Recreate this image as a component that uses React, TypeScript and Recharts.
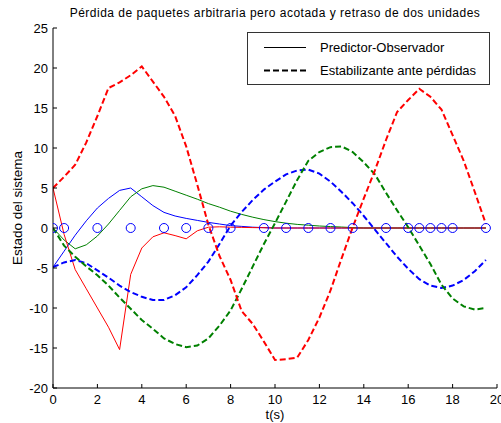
import React from 'react';
import { ComposedChart, Line, Scatter, XAxis, YAxis, Legend } from 'recharts';

const tValues = [
  0, 0.5, 1, 1.5, 2, 2.5, 3, 3.5, 4, 4.5, 5, 5.5, 6, 6.5, 7, 7.5, 8, 8.5, 9, 9.5,
  10, 10.5, 11, 11.5, 12, 12.5, 13, 13.5, 14, 14.5, 15, 15.5, 16, 16.5, 17, 17.5, 18, 18.5, 19, 19.5,
];

// Estabilizante ante pérdidas (dashed)
const redDashed = [
  5, 6.4, 7.9, 10.7, 14.0, 17.5, 18.2, 19.1, 20.2, 18.3, 16.4, 14.0, 10.2, 5.4, 0.4, -3.5, -6.5, -10.4, -12.0, -14.2,
  -16.5, -16.4, -16.2, -14.0, -11.2, -7.8, -3.8, 0.1, 3.7, 7.2, 11.0, 14.5, 16.0, 17.4, 16.4, 14.8, 11.6, 8.4, 4.5, 0.5,
];
const greenDashed = [
  0, -2.2, -3.6, -4.8, -5.9, -7.2, -8.7, -10.1, -11.5, -12.6, -13.8, -14.5, -14.9, -14.7, -13.8, -12.2, -10.3, -7.6, -4.8, -2.0,
  0.6, 3.3, 6.0, 8.4, 9.5, 10.1, 10.2, 9.5, 8.2, 6.7, 4.4, 2.2, 0.1, -2.2, -4.5, -7.1, -8.8, -9.8, -10.2, -10.0,
];
const blueDashed = [
  -4.9, -4.3, -4.0, -4.4, -5.3, -6.2, -7.2, -8.0, -8.6, -9.0, -9.0, -8.4, -7.4, -5.9, -4.2, -2.0, 0.3, 2.0, 3.5, 4.8,
  5.8, 6.7, 7.2, 7.3, 6.8, 5.8, 4.5, 3.1, 1.5, -0.2, -1.9, -3.6, -5.1, -6.4, -7.2, -7.5, -7.2, -6.5, -5.4, -4.0,
];

// Predictor-Observador (solid)
const redSolid = [
  5, -0.8, -5.2, -7.6, -10.0, -12.4, -15.2, -5.8, -2.5, -1.1, -0.6, -0.95, -1.35, -0.35, 0.1, 0.15, 0.1, 0.08, 0.05, 0.03,
  0, 0, 0, 0, 0, 0, 0, 0, 0, 0, 0, 0, 0, 0, 0, 0, 0, 0, 0, 0,
];
const greenSolid = [
  0, -1.5, -2.6, -2.1, -1.0, 0.5, 2.2, 3.9, 4.9, 5.3, 5.1, 4.6, 4.1, 3.6, 3.05, 2.6, 2.1, 1.7, 1.35, 1.05,
  0.8, 0.6, 0.45, 0.35, 0.25, 0.18, 0.12, 0.05, 0, 0, 0, 0, 0, 0, 0, 0, 0, 0, 0, 0,
];
const blueSolid = [
  -4.9, -2.9, -0.9, 0.9, 2.5, 3.7, 4.7, 5.0, 3.9, 2.8, 1.95, 1.5, 1.2, 0.95, 0.7, 0.5, 0.3, 0.2, 0.1, 0.05,
  0, 0, 0, 0, 0, 0, 0, 0, 0, 0, 0, 0, 0, 0, 0, 0, 0, 0, 0, 0,
];

// Instants marked with circles
const markerTimes = [0, 0.5, 2, 3.5, 5, 6, 7, 8, 9.5, 10.5, 11.5, 12.5, 13.5, 15, 16, 16.5, 17, 17.5, 18, 19.5];

const xTicks = [0, 2, 4, 6, 8, 10, 12, 14, 16, 18, 20];
const yTicks = [-20, -15, -10, -5, 0, 5, 10, 15, 20, 25];

const titleText = 'Pérdida de paquetes arbitraria pero acotada y retraso de dos unidades';
const legendLabels = ['Predictor-Observador', 'Estabilizante ante pérdidas'];

const data = tValues.map((t, i) => ({
  t,
  rd: redDashed[i],
  gd: greenDashed[i],
  bd: blueDashed[i],
  rs: redSolid[i],
  gs: greenSolid[i],
  bs: blueSolid[i],
}));
const markerData = markerTimes.map((t) => ({ t, v: 0 }));

const FONT = '"Liberation Sans", Arial, Helvetica, sans-serif';
const DASH = '6 3';

const XTick = (props: any) => {
  const { x, y, payload } = props;
  return (
    <g>
      <line x1={x} y1={y} x2={x} y2={y - 4} stroke="#000" strokeWidth={1} />
      <text x={x} y={y + 16} textAnchor="middle" fontSize={13} fontFamily={FONT} fill="#000">
        {payload.value}
      </text>
    </g>
  );
};

const YTick = (props: any) => {
  const { x, y, payload } = props;
  return (
    <g>
      <line x1={x} y1={y} x2={x + 4} y2={y} stroke="#000" strokeWidth={1} />
      <text x={x - 5} y={y + 4.5} textAnchor="end" fontSize={13} fontFamily={FONT} fill="#000">
        {payload.value}
      </text>
    </g>
  );
};

const LegendBox = () => (
  <svg width={243} height={53} style={{ display: 'block' }}>
    <rect x={0.5} y={0.5} width={242} height={52} fill="#fff" stroke="#333" strokeWidth={1} />
    <line x1={17} y1={15.5} x2={59} y2={15.5} stroke="#000" strokeWidth={1} />
    <text x={73} y={20} fontSize={13} fontFamily={FONT} fill="#000">
      {legendLabels[0]}
    </text>
    <line x1={17} y1={38.5} x2={59} y2={38.5} stroke="#000" strokeWidth={2} strokeDasharray={DASH} />
    <text x={73} y={43} fontSize={13} fontFamily={FONT} fill="#000">
      {legendLabels[1]}
    </text>
  </svg>
);

const circleShape = (p: any) => (
  <circle cx={p.cx} cy={p.cy} r={4.5} fill="none" stroke="#0000ff" strokeWidth={1} />
);

export default function App() {
  return (
    <div style={{ position: 'absolute', left: 0, top: 0, width: 501, height: 423, background: '#fff' }}>
      <div
        style={{
          position: 'absolute',
          left: 53,
          top: 7,
          width: 444,
          textAlign: 'center',
          fontFamily: FONT,
          fontSize: 12,
          lineHeight: '12px',
          letterSpacing: '0.5px',
          whiteSpace: 'nowrap',
          color: '#000',
          zIndex: 2,
        }}
      >
        {titleText}
      </div>
      <ComposedChart width={501} height={423} data={data} margin={{ top: 28, right: 4, bottom: 0, left: 0 }}>
        <XAxis
          dataKey="t"
          type="number"
          domain={[0, 20]}
          ticks={xTicks}
          interval={0}
          allowDataOverflow
          height={35}
          tickLine={false}
          tickSize={0}
          tickMargin={0}
          tick={<XTick />}
          axisLine={{ stroke: '#000' }}
          label={{ value: 't(s)', position: 'insideBottom', offset: 4, fontSize: 13, fontFamily: FONT, fill: '#000' }}
        />
        <YAxis
          type="number"
          domain={[-20, 25]}
          ticks={yTicks}
          interval={0}
          allowDataOverflow
          width={53}
          tickLine={false}
          tickSize={0}
          tickMargin={0}
          tick={<YTick />}
          axisLine={{ stroke: '#000' }}
          label={{
            value: 'Estado del sistema',
            angle: -90,
            position: 'insideLeft',
            offset: 17,
            fontSize: 13.5,
            fontFamily: FONT,
            fill: '#000',
            style: { textAnchor: 'middle' },
          }}
        />
        <Legend
          layout="vertical"
          align="center"
          verticalAlign="middle"
          wrapperStyle={{ left: 247, top: 32, width: 243, height: 53 }}
          content={<LegendBox />}
        />
        <Line dataKey="bs" stroke="#0000ff" strokeWidth={1} dot={false} activeDot={false} isAnimationActive={false} legendType="none" />
        <Line dataKey="gs" stroke="#008000" strokeWidth={1} dot={false} activeDot={false} isAnimationActive={false} legendType="none" />
        <Line dataKey="rs" stroke="#ff0000" strokeWidth={1} dot={false} activeDot={false} isAnimationActive={false} legendType="none" />
        <Line dataKey="bd" stroke="#0000ff" strokeWidth={2} strokeDasharray={DASH} dot={false} activeDot={false} isAnimationActive={false} legendType="none" />
        <Line dataKey="gd" stroke="#008000" strokeWidth={2} strokeDasharray={DASH} dot={false} activeDot={false} isAnimationActive={false} legendType="none" />
        <Line dataKey="rd" stroke="#ff0000" strokeWidth={2} strokeDasharray={DASH} dot={false} activeDot={false} isAnimationActive={false} legendType="none" />
        <Scatter data={markerData} dataKey="v" shape={circleShape} isAnimationActive={false} legendType="none" />
      </ComposedChart>
    </div>
  );
}
